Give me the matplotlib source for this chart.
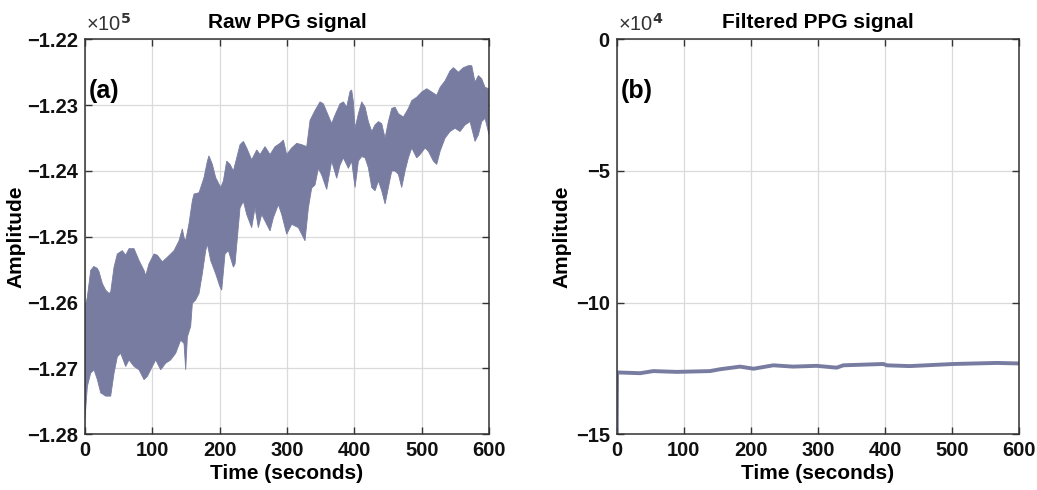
"""Raw vs filtered PPG signal, MATLAB-style two panel figure."""

import numpy as np
import matplotlib.pyplot as plt
from matplotlib.ticker import FuncFormatter

plt.rcParams["font.family"] = ["Liberation Sans", "DejaVu Sans"]
plt.rcParams["font.weight"] = "bold"

# ---- raw signal envelope, time in s, amplitude in counts
raw_t_upper = [0, 3.5, 8.4, 13, 18.3, 20.8, 25.7, 30.7, 35.6, 38.1, 43.1, 48, 55.4, 60.4,
               65.3, 72.8, 80.2, 87.6, 90.1, 95, 102.5, 107.4, 114.8, 122.3, 132.2, 139.6,
               144.5, 147, 149.5, 154.4, 159.4, 161.9, 169.3, 176.7, 181.7, 184.1, 189.1,
               194, 201.5, 205.5, 210.4, 215.4, 220.3, 225.3, 230.2, 235.2, 240.1, 247.5,
               255, 259.9, 267.3, 274.8, 282.2, 289.6, 294.6, 299.5, 306.9, 314.4, 321.8,
               329.2, 334.2, 341.6, 349, 354, 358.9, 366.3, 371.3, 378.7, 383.7, 388.6,
               393.6, 396, 398.5, 401, 406, 410.9, 415.9, 420.8, 425.8, 430.7, 435.7,
               440.6, 445.6, 450.5, 455.5, 460.4, 465.4, 472.8, 480.2, 485.2, 492.6, 500,
               507.5, 514.9, 522.3, 527.3, 534.7, 542.1, 547.1, 554.5, 561.9, 569.3,
               574.3, 579.2, 584.2, 589.1, 594.1, 600]
raw_upper = [-126100, -125910, -125510, -125450, -125480, -125530, -125710, -125810,
             -125860, -125840, -125460, -125260, -125210, -125280, -125180, -125180,
             -125360, -125510, -125590, -125410, -125260, -125280, -125380, -125310,
             -125210, -125060, -124880, -125010, -125060, -124800, -124450, -124350,
             -124330, -124100, -123850, -123770, -123900, -124100, -124250, -124150,
             -123850, -123900, -124000, -123800, -123600, -123550, -123650, -123830,
             -123680, -123750, -123630, -123750, -123630, -123580, -123530, -123750,
             -123650, -123580, -123600, -123630, -123230, -123080, -122950, -122980,
             -123100, -123280, -123150, -122980, -122950, -123030, -122790, -122770,
             -122950, -123350, -123130, -122950, -123030, -123250, -123400, -123300,
             -123250, -123280, -123500, -123250, -123050, -123030, -123130, -123180,
             -123050, -122930, -122880, -122800, -122750, -122800, -122850, -122730,
             -122630, -122480, -122430, -122500, -122430, -122400, -122400, -122650,
             -122550, -122600, -122730, -122750]

raw_t_lower = [0, 3.5, 8.4, 13.4, 18.3, 23.3, 30.7, 38.1, 43.1, 48, 53, 60.4, 65.3, 72.8,
               80.2, 87.6, 92.6, 97.5, 105, 112.4, 119.8, 127.2, 134.6, 142, 147, 149.5,
               152, 156.9, 159.4, 164.3, 169.3, 174.2, 179.2, 181.7, 186.6, 194, 200.5,
               203, 207.9, 212.9, 220.3, 222.8, 230.2, 235.2, 240.1, 247.5, 252.5, 257.4,
               262.4, 269.8, 274.8, 279.7, 287.1, 292.1, 299.5, 306.9, 316.8, 326.7,
               331.7, 336.6, 341.6, 346.5, 351.5, 358.9, 366.3, 373.8, 378.7, 383.7,
               391.1, 396, 401, 406, 410.9, 415.9, 420.8, 425.8, 430.7, 435.7, 440.6,
               445.6, 450.5, 455.5, 460.4, 465.4, 470.3, 475.3, 480.2, 485.2, 492.6,
               497.6, 505, 509.9, 517.4, 522.3, 527.3, 534.7, 542.1, 549.5, 556.9, 564.4,
               571.8, 579.2, 584.2, 589.1, 594.1, 600]
raw_lower = [-127750, -127270, -127070, -127020, -127170, -127370, -127420, -127420,
             -127070, -126820, -126770, -126970, -126870, -126970, -127020, -127170,
             -127120, -127020, -126870, -127020, -126920, -126870, -126770, -126570,
             -126620, -127020, -126520, -126360, -126010, -125960, -125860, -125560,
             -125210, -125110, -125360, -125560, -125760, -125810, -125260, -125210,
             -125460, -125410, -124560, -124460, -124660, -124860, -124560, -124860,
             -124660, -124810, -124910, -124710, -124510, -124660, -124960, -124810,
             -124860, -125060, -124560, -124260, -124210, -123960, -124060, -124280,
             -123850, -124110, -123910, -123800, -123960, -123850, -124250, -123850,
             -123780, -123800, -123950, -124250, -124300, -124150, -124300, -124500,
             -124250, -124000, -124000, -124050, -124250, -124000, -123800, -123650,
             -123800, -123750, -123650, -123700, -123850, -123900, -123700, -123500,
             -123400, -123350, -123400, -123300, -123250, -123550, -123450, -123250,
             -123200, -123450]

# ---- filtered signal (centre line)
filt_t = [0, 0.5, 34.8, 54.6, 89.5, 139, 154, 184, 204, 233.6, 263, 298, 328, 338,
          397.6, 402.7, 437, 502, 566.7, 600]
filt_v = [-150000, -126500, -126800, -126000, -126300, -126000, -125300, -124300,
          -125100, -123800, -124300, -124000, -124700, -123800, -123300, -123800,
          -124100, -123300, -122900, -123100]

sig_color = "#787ca0"
grid_color = "#dadada"
spine_color = "#333333"


def style_axes(ax, ylabel_x):
    for s in ax.spines.values():
        s.set_color(spine_color)
        s.set_linewidth(1.1)
    ax.tick_params(direction="in", top=True, right=True, length=5, width=1.0,
                   colors=spine_color, labelcolor="#111111", labelsize=14.5, pad=5)
    ax.grid(True, color=grid_color, linewidth=0.9)
    ax.set_axisbelow(True)
    ax.set_xlim(0, 600)
    ax.set_xticks(np.arange(0, 601, 100))
    ax.set_xlabel("Time (seconds)", fontsize=15, fontweight="bold", labelpad=3)
    ax.set_ylabel("Amplitude", fontsize=15, fontweight="bold")
    ax.yaxis.set_label_coords(ylabel_x, 0.5)


fig = plt.figure(figsize=(10.37, 4.9), dpi=100)
ax1 = fig.add_axes([0.082, 0.1137, 0.3896, 0.806])
ax2 = fig.add_axes([0.5947, 0.1137, 0.388, 0.806])

# (a) raw
poly_x = np.concatenate([raw_t_upper, raw_t_lower[::-1]])
poly_y = np.concatenate([raw_upper, raw_lower[::-1]])
ax1.fill(poly_x, poly_y, color=sig_color, linewidth=0.6, edgecolor=sig_color)
style_axes(ax1, -0.148)
ax1.set_ylim(-128000, -122000)
ax1.set_yticks(np.arange(-128000, -121999, 1000))
ax1.yaxis.set_major_formatter(FuncFormatter(
    lambda v, _: f"{v / 1e5:.2f}".replace("-", "\u2212")))
ax1.set_title("Raw PPG signal", fontsize=15, fontweight="bold", pad=8)
ax1.text(0.003, 1.012, "\u00d710$^{5}$", transform=ax1.transAxes, fontsize=14.5,
         fontweight="normal", color="#333333", va="bottom", ha="left")
ax1.text(0.008, 0.852, "(a)", transform=ax1.transAxes, fontsize=18, fontweight="bold")

# (b) filtered
ax2.plot(filt_t, filt_v, color=sig_color, linewidth=2.8, solid_joinstyle="round")
style_axes(ax2, -0.112)
ax2.set_ylim(-150000, 0)
ax2.set_yticks(np.arange(-150000, 1, 50000))
ax2.yaxis.set_major_formatter(FuncFormatter(
    lambda v, _: f"{v / 1e4:g}".replace("-", "\u2212")))
ax2.set_title("Filtered PPG signal", fontsize=15, fontweight="bold", pad=8)
ax2.text(0.003, 1.012, "\u00d710$^{4}$", transform=ax2.transAxes, fontsize=14.5,
         fontweight="normal", color="#333333", va="bottom", ha="left")
ax2.text(0.01, 0.852, "(b)", transform=ax2.transAxes, fontsize=18, fontweight="bold")

fig.savefig("out.png", dpi=100)
